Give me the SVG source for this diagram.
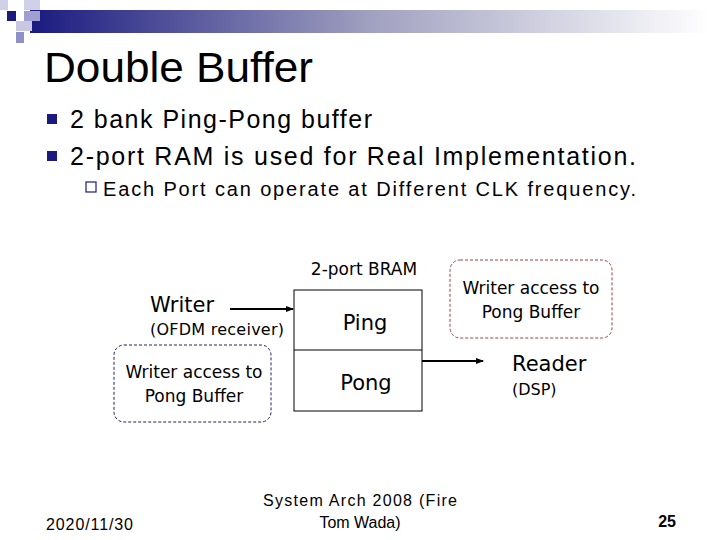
<svg xmlns="http://www.w3.org/2000/svg" width="720" height="540" viewBox="0 0 720 540">
<defs>
<linearGradient id="g" x1="0" x2="1" y1="0" y2="0"><stop offset="0" stop-color="#1a1a80"/><stop offset="0.5" stop-color="#a0a0c0"/><stop offset="1" stop-color="#ffffff"/></linearGradient>
<marker id="a" markerWidth="8" markerHeight="8" refX="7" refY="4" orient="auto" markerUnits="userSpaceOnUse"><path d="M0,1 L8,4 L0,7 Z" fill="#000"/></marker>
<style>text{font-family:"Liberation Sans",Arial,sans-serif;fill:#000}.t{font-family:Tahoma,"DejaVu Sans",sans-serif}</style>
</defs>
<rect width="720" height="540" fill="#fff"/>
<rect x="30" y="10" width="680" height="23" fill="url(#g)"/>
<rect x="0" y="0" width="8" height="10" fill="#d0d0e8"/>
<rect x="24" y="0" width="16" height="10" fill="#d0d0e8"/>
<rect x="7" y="11" width="9" height="10" fill="#1a1a80"/>
<rect x="24" y="11" width="16" height="10" fill="#a0a0d0"/>
<rect x="16" y="21" width="16" height="10" fill="#c8c8e4"/>
<rect x="16" y="32" width="8" height="11" fill="#9090c8"/>
<text x="44" y="82" font-size="42" textLength="269" lengthAdjust="spacingAndGlyphs">Double Buffer</text>
<rect x="47" y="114" width="10" height="10" fill="#1a1a80"/>
<rect x="47" y="151" width="10" height="10" fill="#1a1a80"/>
<text x="70" y="128" font-size="25" textLength="302">2 bank Ping-Pong buffer</text>
<text x="70" y="165" font-size="25" textLength="566">2-port RAM is used for Real Implementation.</text>
<rect x="86" y="182" width="10" height="10" fill="none" stroke="#1a1a80" stroke-width="1.2"/>
<text x="103" y="196" font-size="20" textLength="533">Each Port can operate at Different CLK frequency.</text>
<g id="bram"><text class="t" x="364" y="275" font-size="17" text-anchor="middle">2-port BRAM</text>
<rect x="294" y="290" width="128" height="121" fill="#fff" stroke="#000"/>
<line x1="294" y1="350" x2="422" y2="350" stroke="#000"/>
<text class="t" x="365" y="330" font-size="21" text-anchor="middle">Ping</text>
<text class="t" x="366" y="390" font-size="21" text-anchor="middle">Pong</text></g>
<g id="writer"><text class="t" x="150" y="312" font-size="21">Writer</text>
<text class="t" x="150" y="335" font-size="16" textLength="134">(OFDM receiver)</text></g>
<g id="reader"><text class="t" x="512" y="371" font-size="21">Reader</text>
<text class="t" x="512" y="395" font-size="16">(DSP)</text></g>
<g id="note1"><rect x="114" y="345" width="157" height="77" rx="10" fill="none" stroke="#202060" stroke-dasharray="3,2"/>
<text class="t" x="194" y="378" font-size="17" text-anchor="middle">Writer access to</text>
<text class="t" x="194" y="402" font-size="17" text-anchor="middle">Pong Buffer</text></g>
<g id="note2"><rect x="450" y="260" width="162" height="78" rx="10" fill="none" stroke="#a04040" stroke-dasharray="3,2"/>
<text class="t" x="531" y="294" font-size="17" text-anchor="middle">Writer access to</text>
<text class="t" x="531" y="318" font-size="17" text-anchor="middle">Pong Buffer</text></g>
<g id="connectors" stroke="#000" stroke-width="2">
<line x1="230" y1="309" x2="293" y2="309" marker-end="url(#a)"/>
<line x1="422" y1="361" x2="483" y2="361" marker-end="url(#a)"/>
</g>
<text x="46" y="530" font-size="16" textLength="87">2020/11/30</text>
<text x="360" y="506" font-size="16" text-anchor="middle" textLength="194">System Arch 2008  (Fire</text>
<text x="360" y="528" font-size="16" text-anchor="middle">Tom Wada)</text>
<text x="676" y="527" font-size="16" font-weight="bold" text-anchor="end">25</text>
</svg>
